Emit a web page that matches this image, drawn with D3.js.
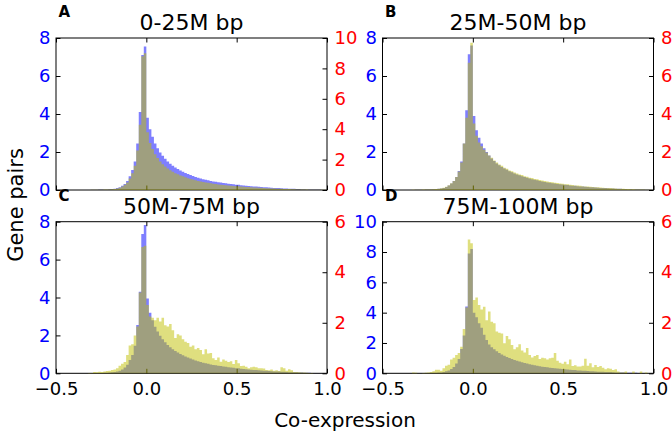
<!DOCTYPE html>
<html>
<head>
<meta charset="utf-8">
<script src="https://cdn.jsdelivr.net/npm/d3@7"></script>
<style>
  body { margin: 0; background: #fff; }
  svg { display: block; font-family: "DejaVu Sans", sans-serif; }
</style>
</head>
<body>
<div id="chart"></div>
<script>
// histogram bins: first edge and width (co-expression units)
const binStart = -0.364;
const binWidth = 0.014;

const xTicks = [-0.5, 0.0, 0.5, 1.0];
const panelLetters = ["A", "B", "C", "D"];
const panelTitles = ["0-25M bp", "25M-50M bp", "50M-75M bp", "75M-100M bp"];
const blueTicks = [[0, 2, 4, 6, 8], [0, 2, 4, 6, 8], [0, 2, 4, 6, 8], [0, 2, 4, 6, 8, 10]];
const redTicks = [[0, 2, 4, 6, 8, 10], [0, 2, 4, 6, 8], [0, 2, 4, 6], [0, 2, 4, 6]];

const blueA = [
  0, 0, 0, 0, 0.01, 0.01, 0.01, 0.02, 0.02, 0.03,
  0.03, 0.04, 0.05, 0.07, 0.1, 0.14, 0.22, 0.32, 0.48, 0.72,
  1.05, 1.5, 2.45, 4.1, 7.1, 7.55, 3.8, 3.2, 2.8, 2.45,
  2.2, 1.98, 1.8, 1.64, 1.5, 1.38, 1.27, 1.18, 1.1, 1.03,
  0.96, 0.9, 0.84, 0.79, 0.74, 0.69, 0.65, 0.61, 0.57, 0.54,
  0.51, 0.48, 0.45, 0.43, 0.41, 0.39, 0.37, 0.35, 0.33, 0.31,
  0.3, 0.28, 0.27, 0.25, 0.24, 0.22, 0.21, 0.2, 0.19, 0.18,
  0.17, 0.16, 0.15, 0.14, 0.13, 0.12, 0.11, 0.1, 0.1, 0.09,
  0.08, 0.08, 0.07, 0.06, 0.06, 0.05, 0.05, 0.04, 0.04, 0.03,
  0.03, 0.03, 0.02, 0.02, 0.02, 0.01, 0.01];
const yellowA = [
  0, 0, 0, 0, 0.01, 0.01, 0.01, 0.02, 0.02, 0.03,
  0.03, 0.04, 0.05, 0.07, 0.1, 0.15, 0.23, 0.34, 0.5, 0.75,
  1.1, 1.6, 2.6, 4.3, 8.8, 9.0, 3.8, 3.1, 2.7, 2.35,
  2.1, 1.88, 1.7, 1.55, 1.42, 1.3, 1.2, 1.11, 1.03, 0.96,
  0.9, 0.84, 0.78, 0.73, 0.69, 0.64, 0.6, 0.56, 0.53, 0.5,
  0.47, 0.44, 0.41, 0.39, 0.37, 0.35, 0.33, 0.31, 0.3, 0.28,
  0.27, 0.25, 0.24, 0.23, 0.21, 0.2, 0.19, 0.18, 0.17, 0.16,
  0.15, 0.14, 0.13, 0.12, 0.11, 0.1, 0.1, 0.09, 0.08, 0.08,
  0.07, 0.07, 0.06, 0.05, 0.05, 0.04, 0.04, 0.04, 0.03, 0.03,
  0.02, 0.02, 0.02, 0.01, 0.01, 0.01, 0.01];

const blueB = [
  0, 0, 0, 0.01, 0.01, 0.01, 0.01, 0.02, 0.02, 0.03,
  0.04, 0.05, 0.06, 0.08, 0.11, 0.16, 0.24, 0.34, 0.48, 0.68,
  1.0, 1.5, 2.45, 4.2, 7.15, 7.6, 3.9, 3.15, 2.75, 2.45,
  2.2, 2.0, 1.82, 1.66, 1.52, 1.4, 1.3, 1.21, 1.13, 1.06,
  0.99, 0.93, 0.87, 0.82, 0.77, 0.72, 0.68, 0.64, 0.6, 0.57,
  0.54, 0.51, 0.48, 0.45, 0.42, 0.4, 0.38, 0.36, 0.34, 0.32,
  0.3, 0.29, 0.27, 0.26, 0.24, 0.23, 0.22, 0.2, 0.19, 0.18,
  0.17, 0.16, 0.15, 0.14, 0.13, 0.12, 0.11, 0.1, 0.1, 0.09,
  0.08, 0.08, 0.07, 0.06, 0.06, 0.05, 0.05, 0.04, 0.04, 0.03,
  0.03, 0.02, 0.02, 0.02, 0.01, 0.01, 0.01];
const yellowB = [
  0, 0, 0.01, 0.01, 0.01, 0.01, 0.02, 0.02, 0.03, 0.03,
  0.04, 0.05, 0.07, 0.09, 0.12, 0.17, 0.25, 0.35, 0.48, 0.68,
  0.98, 1.45, 2.45, 3.8, 6.7, 7.75, 3.5, 2.85, 2.5, 2.3,
  2.12, 1.98, 1.82, 1.7, 1.55, 1.45, 1.34, 1.27, 1.17, 1.12,
  1.03, 0.99, 0.92, 0.87, 0.82, 0.79, 0.73, 0.7, 0.65, 0.63,
  0.58, 0.56, 0.52, 0.5, 0.47, 0.45, 0.42, 0.41, 0.38, 0.37,
  0.34, 0.33, 0.3, 0.3, 0.27, 0.26, 0.24, 0.24, 0.22, 0.2,
  0.19, 0.19, 0.17, 0.16, 0.15, 0.15, 0.13, 0.12, 0.11, 0.11,
  0.1, 0.09, 0.08, 0.07, 0.07, 0.06, 0.05, 0.05, 0.04, 0.04,
  0.03, 0.03, 0.02, 0.02, 0.01, 0.01, 0.01];

const blueC = [
  0, 0, 0, 0, 0.01, 0.01, 0.01, 0.02, 0.02, 0.03,
  0.03, 0.04, 0.05, 0.07, 0.1, 0.14, 0.2, 0.3, 0.45, 0.7,
  0.97, 1.45, 2.55, 4.3, 7.35, 7.82, 3.95, 3.2, 2.8, 2.45,
  2.2, 1.98, 1.8, 1.64, 1.5, 1.38, 1.27, 1.18, 1.1, 1.02,
  0.95, 0.89, 0.83, 0.78, 0.73, 0.68, 0.64, 0.6, 0.56, 0.53,
  0.5, 0.47, 0.44, 0.42, 0.4, 0.38, 0.36, 0.34, 0.32, 0.3,
  0.29, 0.27, 0.26, 0.24, 0.23, 0.21, 0.2, 0.19, 0.18, 0.17,
  0.16, 0.15, 0.14, 0.13, 0.12, 0.11, 0.1, 0.1, 0.09, 0.08,
  0.08, 0.07, 0.06, 0.06, 0.05, 0.05, 0.04, 0.04, 0.03, 0.03,
  0.03, 0.02, 0.02, 0.02, 0.01, 0.01, 0.01];
const yellowC = [
  0, 0, 0, 0.01, 0.01, 0.05, 0.04, 0.06, 0.05, 0.07,
  0.09, 0.1, 0.13, 0.15, 0.2, 0.3, 0.38, 0.45, 0.72, 1.1,
  1.15, 1.5, 1.85, 3.2, 5.0, 5.05, 2.7, 2.25, 2.2, 2.1,
  2.2, 2.05, 2.2, 1.9, 1.85, 1.95, 1.7, 1.4, 1.55, 1.5,
  1.35, 1.25, 1.2, 1.05, 1.1, 0.95, 1.0, 0.92, 0.75, 0.95,
  0.78, 0.8, 0.6, 0.53, 0.63, 0.46, 0.55, 0.5, 0.45, 0.48,
  0.37, 0.53, 0.4, 0.29, 0.3, 0.26, 0.2, 0.24, 0.26, 0.24,
  0.2, 0.2, 0.19, 0.13, 0.12, 0.15, 0.1, 0.12, 0.09, 0.24,
  0.2, 0.1, 0.16, 0.12, 0.05, 0.05, 0.04, 0.03, 0.03, 0.02,
  0.01, 0.01, 0, 0, 0, 0, 0];

const blueD = [
  0, 0, 0, 0, 0.01, 0.01, 0.01, 0.02, 0.02, 0.03,
  0.03, 0.04, 0.05, 0.06, 0.09, 0.13, 0.19, 0.28, 0.42, 0.65,
  0.95, 1.6, 2.5, 4.4, 7.9, 8.2, 4.0, 3.7, 3.3, 3.0,
  2.55, 2.2, 1.9, 1.72, 1.58, 1.45, 1.34, 1.24, 1.16, 1.08,
  1.01, 0.94, 0.88, 0.83, 0.78, 0.73, 0.68, 0.64, 0.6, 0.56,
  0.53, 0.5, 0.47, 0.44, 0.42, 0.4, 0.37, 0.35, 0.33, 0.31,
  0.3, 0.28, 0.26, 0.25, 0.23, 0.22, 0.21, 0.19, 0.18, 0.17,
  0.16, 0.15, 0.14, 0.13, 0.12, 0.11, 0.1, 0.1, 0.09, 0.08,
  0.08, 0.07, 0.06, 0.06, 0.05, 0.05, 0.04, 0.04, 0.03, 0.03,
  0.03, 0.02, 0.02, 0.02, 0.01, 0.01, 0.01];
const yellowD = [
  0, 0, 0.03, 0.02, 0, 0, 0.01, 0.02, 0.03, 0.05,
  0.08, 0.14, 0.14, 0.1, 0.2, 0.3, 0.34, 0.55, 0.62, 0.72,
  0.8, 1.05, 1.75, 2.6, 5.3, 5.15, 2.9, 3.0, 2.7, 2.53,
  2.63, 2.1, 2.45, 2.04, 1.98, 1.65, 1.6, 1.58, 1.19, 1.48,
  1.35, 1.12, 0.95, 1.03, 1.15, 0.9, 0.82, 1.0, 0.72, 0.63,
  0.68, 0.72, 0.57, 0.62, 0.6, 0.55, 0.6, 0.62, 0.8, 0.5,
  0.42, 0.38, 0.46, 0.36, 0.55, 0.29, 0.32, 0.27, 0.27, 0.3,
  0.58, 0.3, 0.4, 0.24, 0.33, 0.25, 0.29, 0.22, 0.16, 0.2,
  0.18, 0.13, 0.16, 0.07, 0.03, 0.03, 0.07, 0, 0, 0.07,
  0, 0, 0.07, 0, 0.03, 0, 0];

const blueSeries = [blueA, blueB, blueC, blueD];
const yellowSeries = [yellowA, yellowB, yellowC, yellowD];

const width = 672, height = 438;
const boxes = [
  {x0: 56, x1: 327, y0: 38, y1: 190},
  {x0: 382.5, x1: 653.5, y0: 38, y1: 190},
  {x0: 56, x1: 327, y0: 221.7, y1: 373.3},
  {x0: 382.5, x1: 653.5, y0: 221.7, y1: 373.3}
];
const tickLen = 4.5;

const svg = d3.select("#chart").append("svg")
    .attr("width", width)
    .attr("height", height);

function toSteps(vals) {
  let pts = vals.map((v, k) => ({e: binStart + k * binWidth, v: v}));
  pts.push({e: binStart + vals.length * binWidth, v: vals[vals.length - 1]});
  return pts;
}

function styleAxis(g, color, size) {
  g.select(".domain").remove();
  g.selectAll(".tick line").attr("stroke", "#000").attr("stroke-width", 1);
  g.selectAll(".tick text")
      .attr("fill", color)
      .attr("font-size", size)
      .attr("font-family", "DejaVu Sans, sans-serif");
}

boxes.forEach(function(p, i) {
  const bottomRow = i >= 2;
  const x = d3.scaleLinear().domain([-0.5, 1.0]).range([p.x0, p.x1]);
  const yB = d3.scaleLinear().domain([0, d3.max(blueTicks[i])]).range([p.y1, p.y0]);
  const yR = d3.scaleLinear().domain([0, d3.max(redTicks[i])]).range([p.y1, p.y0]);

  const g = svg.append("g");

  // first axes: blue histogram
  g.append("path")
      .datum(toSteps(blueSeries[i]))
      .attr("d", d3.area()
          .x(d => x(d.e))
          .y0(p.y1)
          .y1(d => yB(d.v))
          .curve(d3.curveStepAfter))
      .attr("fill", "#0000ff")
      .attr("fill-opacity", 0.5);

  g.append("rect")
      .attr("x", p.x0).attr("y", p.y0)
      .attr("width", p.x1 - p.x0).attr("height", p.y1 - p.y0)
      .attr("fill", "none").attr("stroke", "#000").attr("stroke-width", 1);

  g.append("g")
      .attr("transform", "translate(" + p.x0 + ",0)")
      .call(d3.axisLeft(yB).tickValues(blueTicks[i]).tickFormat(d3.format("d"))
          .tickSizeInner(-tickLen).tickSizeOuter(0).tickPadding(5.5))
      .call(s => styleAxis(s, "#0000ff", 18));

  g.append("g")
      .attr("transform", "translate(0," + p.y0 + ")")
      .call(d3.axisTop(x).tickValues(xTicks).tickFormat("")
          .tickSizeInner(-tickLen).tickSizeOuter(0))
      .call(s => styleAxis(s, "#000", 18));

  g.append("g")
      .attr("transform", "translate(0," + p.y1 + ")")
      .call(d3.axisBottom(x).tickValues(xTicks)
          .tickFormat(bottomRow ? d3.format(".1f") : "")
          .tickSizeInner(-tickLen).tickSizeOuter(0).tickPadding(9))
      .call(s => styleAxis(s, "#000", 18));

  // twin axes: yellow histogram drawn over the first one
  g.append("path")
      .datum(toSteps(yellowSeries[i]))
      .attr("d", d3.area()
          .x(d => x(d.e))
          .y0(p.y1)
          .y1(d => yR(d.v))
          .curve(d3.curveStepAfter))
      .attr("fill", "#bfbf00")
      .attr("fill-opacity", 0.5);

  g.append("g")
      .attr("transform", "translate(" + p.x1 + ",0)")
      .call(d3.axisRight(yR).tickValues(redTicks[i]).tickFormat(d3.format("d"))
          .tickSizeInner(-tickLen).tickSizeOuter(0).tickPadding(7.5))
      .call(s => styleAxis(s, "#ff0000", 18));

  g.append("text")
      .attr("x", (p.x0 + p.x1) / 2)
      .attr("y", p.y0 - 8)
      .attr("text-anchor", "middle")
      .attr("font-size", 22)
      .text(panelTitles[i]);

  g.append("text")
      .attr("x", p.x0 + 2.5)
      .attr("y", p.y0 - 21)
      .attr("font-size", 15)
      .attr("font-weight", "bold")
      .text(panelLetters[i]);
});

svg.append("text")
    .attr("transform", "translate(23,205) rotate(-90)")
    .attr("text-anchor", "middle")
    .attr("font-size", 21)
    .text("Gene pairs");

svg.append("text")
    .attr("x", 345)
    .attr("y", 427)
    .attr("text-anchor", "middle")
    .attr("font-size", 20)
    .text("Co-expression");
</script>
</body>
</html>
